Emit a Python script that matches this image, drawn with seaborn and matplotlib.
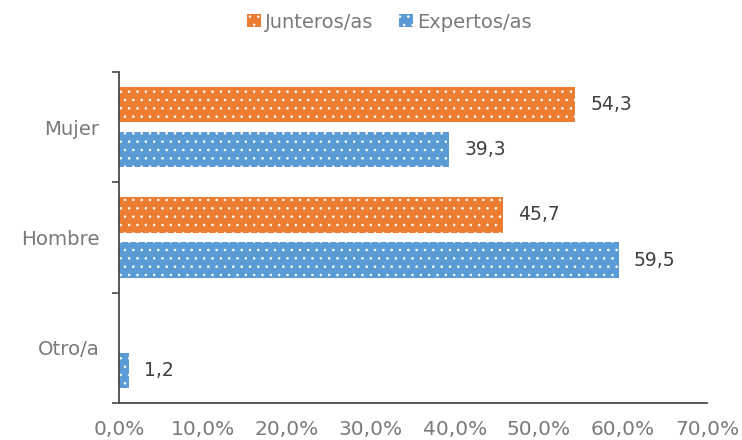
import matplotlib
matplotlib.use("Agg")
import matplotlib.pyplot as plt
from matplotlib.patches import Patch
from matplotlib.ticker import FixedLocator, FuncFormatter
import numpy as np
import pandas as pd
import seaborn as sns

categories = ["Mujer", "Hombre", "Otro/a"]
groups = ["Junteros/as", "Expertos/as"]
junteros = [54.3, 45.7, np.nan]
expertos = [39.3, 59.5, 1.2]
x_ticks = [0, 10, 20, 30, 40, 50, 60, 70]

colors = {"Junteros/as": "#ED7D31", "Expertos/as": "#5B9BD5"}
tick_color = "#7a7a7a"
value_color = "#404040"
axis_color = "#4a4a4a"

df = pd.DataFrame({
    "categoria": categories * 2,
    "grupo": [groups[0]] * 3 + [groups[1]] * 3,
    "valor": junteros + expertos,
})

sns.set_style("white")
plt.rcParams["font.family"] = ["DejaVu Sans"]
plt.rcParams["hatch.linewidth"] = 0.6

fig = plt.figure(figsize=(7.42, 4.40), dpi=100)
ax = fig.add_axes([0.1604, 0.0841, 0.7924, 0.7523])

sns.barplot(
    data=df, y="categoria", x="valor", hue="grupo",
    order=categories, hue_order=groups, palette=colors, saturation=1,
    orient="h", errorbar=None, width=0.82, gap=0.22,
    legend=False, ax=ax,
)

for patch in ax.patches:
    patch.set_hatch("..")
    patch.set_edgecolor("white")
    patch.set_linewidth(0)

for cont in ax.containers:
    vals = [b.get_width() for b in cont]
    labels = ["" if np.isnan(v) else f"{v:.1f}".replace(".", ",") for v in vals]
    ax.bar_label(cont, labels=labels, padding=11, fontsize=13.5, color=value_color)

ax.set_xlim(0, 70)
ax.set_ylim(2.5, -0.5)
ax.xaxis.set_major_locator(FixedLocator(x_ticks))
ax.xaxis.set_major_formatter(FuncFormatter(lambda v, p: f"{v:.1f}%".replace(".", ",")))
ax.set_yticks(range(len(categories)))
ax.set_yticklabels(categories)
ax.set_yticks([-0.5, 0.5, 1.5, 2.5], minor=True)

ax.tick_params(axis="x", which="major", direction="out", length=5, width=1.2,
               color=axis_color, labelcolor=tick_color, labelsize=14.5, pad=7)
ax.tick_params(axis="y", which="major", length=0, labelcolor=tick_color,
               labelsize=14.2, pad=14)
ax.tick_params(axis="y", which="minor", direction="out", length=5, width=1.2,
               color=axis_color, left=True)
ax.set_xlabel("")
ax.set_ylabel("")

for side in ["top", "right"]:
    ax.spines[side].set_visible(False)
for side in ["left", "bottom"]:
    ax.spines[side].set_color(axis_color)
    ax.spines[side].set_linewidth(1.3)

handles = [Patch(facecolor=colors[g], edgecolor="white", linewidth=0, hatch="..", label=g)
           for g in groups]
fig.legend(handles=handles, loc="center", bbox_to_anchor=(0.525, 0.95), ncol=2,
           frameon=False, fontsize=14, labelcolor=tick_color,
           handlelength=0.7, handleheight=0.7, handletextpad=0.25, columnspacing=1.3)

fig.savefig("out.png", dpi=100)
